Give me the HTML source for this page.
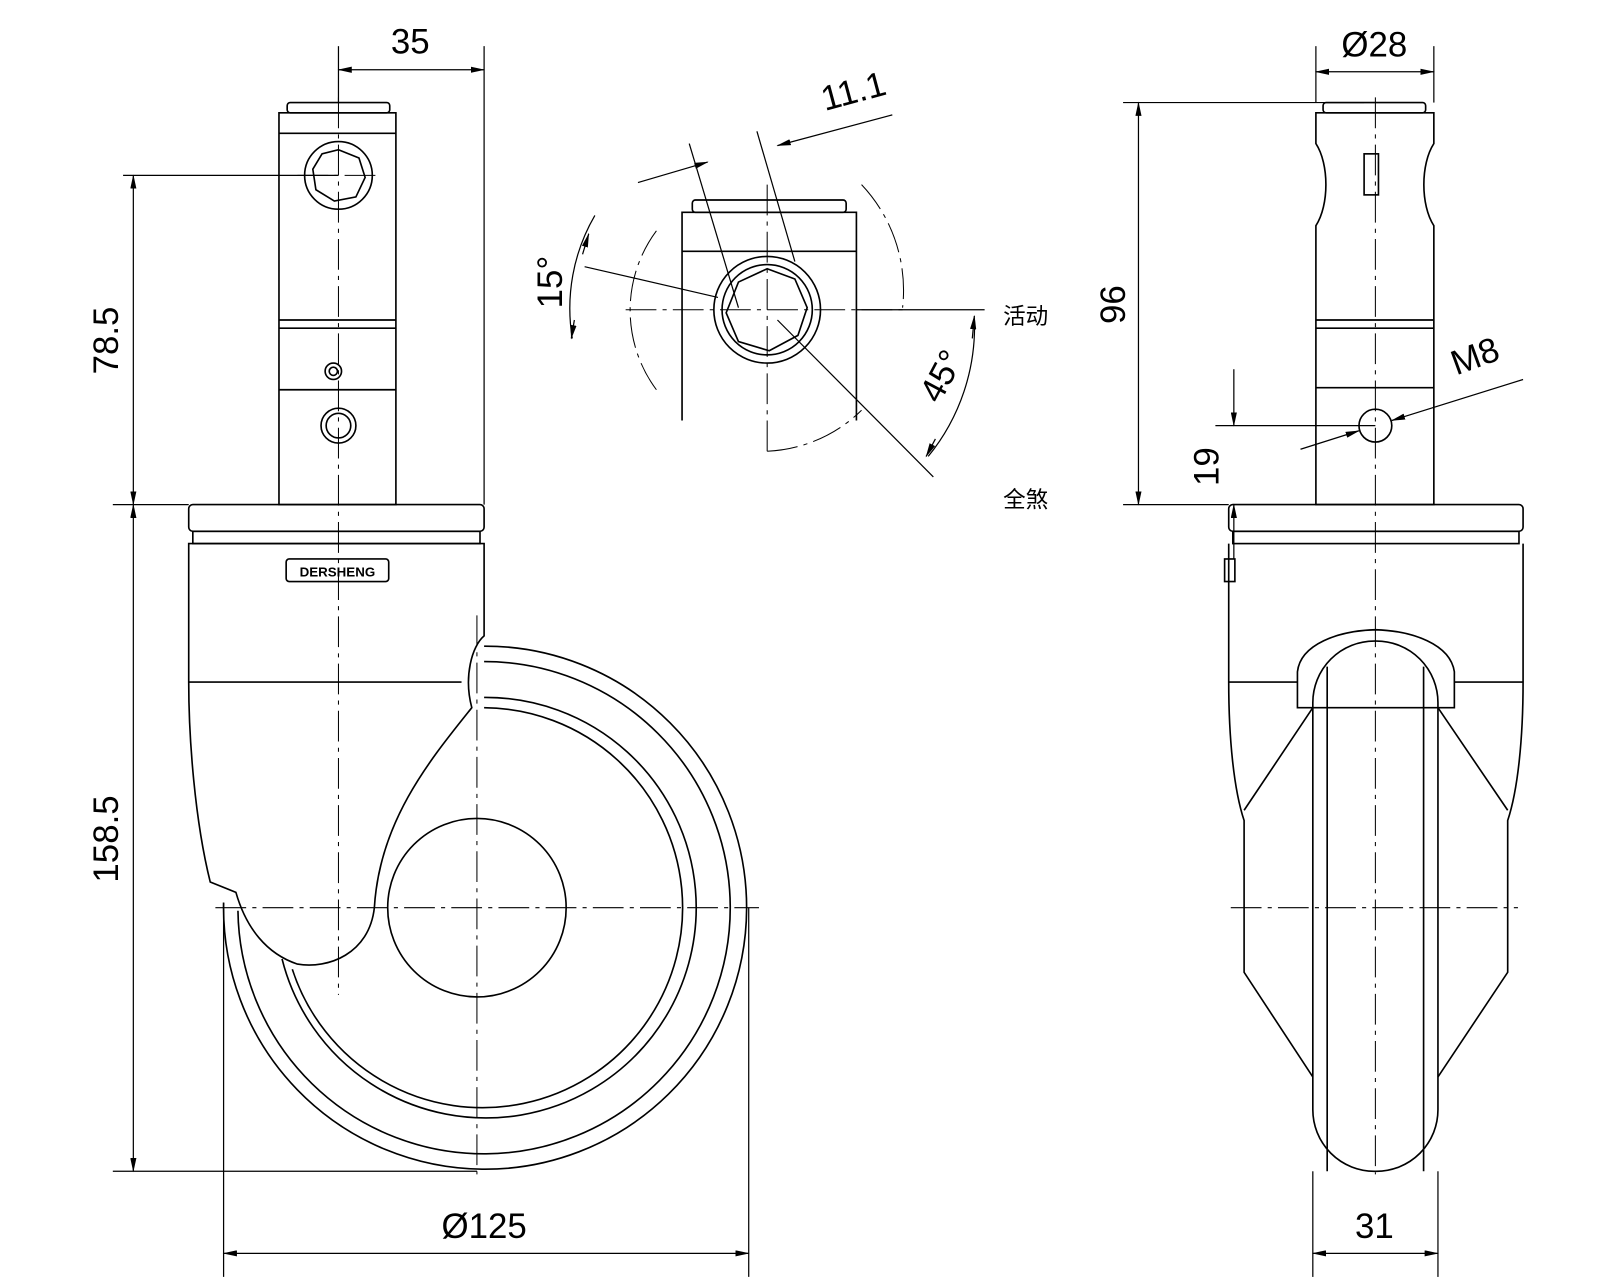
<!DOCTYPE html>
<html><head><meta charset="utf-8"><style>html,body{margin:0;padding:0;background:#fff}svg{display:block}</style></head><body>
<svg width="1600" height="1280" viewBox="0 0 1560 1248" xmlns="http://www.w3.org/2000/svg" font-family="Liberation Sans, sans-serif">
<defs><marker id="a" markerWidth="14" markerHeight="6" refX="13" refY="3" orient="auto-start-reverse" markerUnits="userSpaceOnUse"><path d="M0,0L14,3L0,6z" fill="#000"/></marker></defs>
<g fill="none" stroke="#000" stroke-width="1.6">
<rect x="280" y="100" width="100" height="10" rx="3"/>
<rect x="272" y="110" width="114" height="382"/>
<line x1="272" y1="130" x2="386" y2="130"/>
<line x1="272" y1="312" x2="386" y2="312"/><line x1="272" y1="320" x2="386" y2="320"/>
<line x1="272" y1="380" x2="386" y2="380"/>
<circle cx="330" cy="171" r="33"/><polygon points="330,146 350,154 356,173 347,192 326,196 308,185 305,165 314,150"/>
<circle cx="325" cy="362" r="8"/><circle cx="325" cy="362" r="4"/>
<circle cx="330" cy="415" r="17"/><circle cx="330" cy="415" r="12"/>
<rect x="184" y="492" width="288" height="26" rx="4"/>
<rect x="188" y="518" width="280" height="12"/>
<path d="M184,530 H472 V620 C460,630 452,660 460,690 C420,740 370,800 365,885 C360,930 320,945 290,940 C260,930 240,905 230,870 L205,860 C190,800 184,720 184,665 Z"/>
<line x1="184" y1="665" x2="450" y2="665"/>
<rect x="279" y="545" width="100" height="22" rx="3"/>
<path d="M472,630 A255,255 0 1 1 218,880"/>
<path d="M472,645 A240,240 0 1 1 232,888"/>
<path d="M472,680 A205,205 0 1 1 275,935"/>
<path d="M472,690 A195,195 0 1 1 285,945"/>
<circle cx="465" cy="885" r="87"/>
<rect x="675" y="195" width="150" height="12" rx="3"/>
<path d="M665,410 V207 H835 V410"/>
<line x1="665" y1="245" x2="835" y2="245"/>
<circle cx="748" cy="302" r="52"/><circle cx="748" cy="302" r="44"/>
<polygon points="748,262 775,272 787,300 778,327 750,342 720,333 708,305 720,275"/>
<rect x="1290" y="100" width="100" height="10" rx="3"/>
<path d="M1283,110 H1398 V140 C1385,160 1385,200 1398,220 V492 H1283 V220 C1296,200 1296,160 1283,140 Z"/>
<line x1="1283" y1="312" x2="1398" y2="312"/><line x1="1283" y1="320" x2="1398" y2="320"/><line x1="1283" y1="378" x2="1398" y2="378"/>
<rect x="1330" y="150" width="14" height="40"/>
<circle cx="1341" cy="415" r="16"/>
<rect x="1198" y="492" width="287" height="26" rx="4"/>
<rect x="1202" y="518" width="279" height="12"/>
<path d="M1198,530 V665 C1198,720 1203,770 1213,800 V948 L1280,1050"/>
<path d="M1485,530 V665 C1485,720 1480,770 1470,800 V948 L1402,1050"/>
<path d="M1213,790 L1280,690 M1470,790 L1402,690"/>
<line x1="1198" y1="665" x2="1265" y2="665"/><line x1="1418" y1="665" x2="1485" y2="665"/>
<rect x="1280" y="625" width="122" height="517" rx="60"/>
<line x1="1294" y1="650" x2="1294" y2="1142"/><line x1="1388" y1="650" x2="1388" y2="1142"/>
<path d="M1265,690 V655 C1268,628 1305,615 1341,614 C1377,615 1414,628 1418,655 V690 Z"/>
<rect x="1194" y="545" width="10" height="22"/>
</g>
<g stroke="#000" stroke-width="1" stroke-dasharray="30,6,4,6" fill="none">
<line x1="330" y1="95" x2="330" y2="970"/><line x1="290" y1="171" x2="372" y2="171"/>
<line x1="210" y1="885" x2="740" y2="885"/><line x1="465" y1="600" x2="465" y2="1145"/>
<line x1="748" y1="180" x2="748" y2="440"/><line x1="610" y1="302" x2="885" y2="302"/>
<line x1="1341" y1="95" x2="1341" y2="1145"/><line x1="1200" y1="885" x2="1480" y2="885"/>
<path d="M640,380 A130,130 0 0 1 640,225"/><path d="M840,180 A150,150 0 0 1 880,300"/>
<path d="M748,440 A140,140 0 0 0 840,400"/>
</g>
<g stroke="#000" stroke-width="1.2" fill="none">
<line x1="330" y1="45" x2="330" y2="100"/><line x1="472" y1="45" x2="472" y2="492"/>
<line x1="330" y1="68" x2="472" y2="68" marker-start="url(#a)" marker-end="url(#a)"/>
<line x1="120" y1="171" x2="330" y2="171"/><line x1="110" y1="492" x2="184" y2="492"/><line x1="110" y1="1142" x2="465" y2="1142"/>
<line x1="130" y1="171" x2="130" y2="492" marker-start="url(#a)" marker-end="url(#a)"/>
<line x1="130" y1="492" x2="130" y2="1142" marker-start="url(#a)" marker-end="url(#a)"/>
<line x1="218" y1="880" x2="218" y2="1245"/><line x1="730" y1="885" x2="730" y2="1245"/>
<line x1="218" y1="1222" x2="730" y2="1222" marker-start="url(#a)" marker-end="url(#a)"/>
<line x1="1283" y1="45" x2="1283" y2="100"/><line x1="1398" y1="45" x2="1398" y2="100"/>
<line x1="1283" y1="70" x2="1398" y2="70" marker-start="url(#a)" marker-end="url(#a)"/>
<line x1="1095" y1="100" x2="1330" y2="100"/><line x1="1095" y1="492" x2="1198" y2="492"/>
<line x1="1110" y1="100" x2="1110" y2="492" marker-start="url(#a)" marker-end="url(#a)"/>
<line x1="1185" y1="415" x2="1341" y2="415"/>
<line x1="1203" y1="360" x2="1203" y2="415" marker-end="url(#a)"/><line x1="1203" y1="545" x2="1203" y2="492" marker-end="url(#a)"/>
<line x1="1268" y1="438" x2="1325" y2="420" marker-end="url(#a)"/><line x1="1485" y1="370" x2="1357" y2="410" marker-end="url(#a)"/>
<line x1="1280" y1="1142" x2="1280" y2="1245"/><line x1="1402" y1="1142" x2="1402" y2="1245"/>
<line x1="1280" y1="1222" x2="1402" y2="1222" marker-start="url(#a)" marker-end="url(#a)"/>
<line x1="672" y1="140" x2="720" y2="300"/><line x1="738" y1="128" x2="775" y2="255"/>
<line x1="622" y1="178" x2="690" y2="158" marker-end="url(#a)"/><line x1="870" y1="112" x2="758" y2="142" marker-end="url(#a)"/>
<line x1="570" y1="260" x2="700" y2="290"/>
<path d="M580,210 A180,180 0 0 0 558,330" /><line x1="568" y1="248" x2="574" y2="228" marker-end="url(#a)"/><line x1="560" y1="312" x2="557" y2="330" marker-end="url(#a)"/>
<line x1="758" y1="312" x2="910" y2="465"/><line x1="835" y1="302" x2="960" y2="302"/>
<path d="M950,310 A200,200 0 0 1 905,445"/><line x1="948" y1="330" x2="950" y2="308" marker-end="url(#a)"/><line x1="912" y1="428" x2="903" y2="445" marker-end="url(#a)"/>
</g>
<g font-size="34" fill="#000" text-anchor="middle">
<text x="400" y="52">35</text>
<text x="472" y="1207">Ø125</text>
<text x="1340" y="55">Ø28</text>
<text x="1340" y="1207">31</text>
<text transform="translate(115,332) rotate(-90)">78.5</text>
<text transform="translate(115,818) rotate(-90)">158.5</text>
<text transform="translate(1097,297) rotate(-90)">96</text>
<text transform="translate(1188,455) rotate(-90)">19</text>
<text transform="translate(835,100) rotate(-15)">11.1</text>
<text transform="translate(548,275) rotate(-90)">15°</text>
<text transform="translate(928,372) rotate(-62)">45°</text>
<text transform="translate(1442,358) rotate(-20)">M8</text>
</g>
<g font-size="22" fill="#000" font-family="Liberation Sans, Noto Sans CJK SC, sans-serif">
<text x="978" y="316">活动</text><text x="978" y="495">全煞</text>
</g>
<text x="329" y="562" font-size="13" text-anchor="middle" font-weight="bold">DERSHENG</text>
</svg>
</body></html>
